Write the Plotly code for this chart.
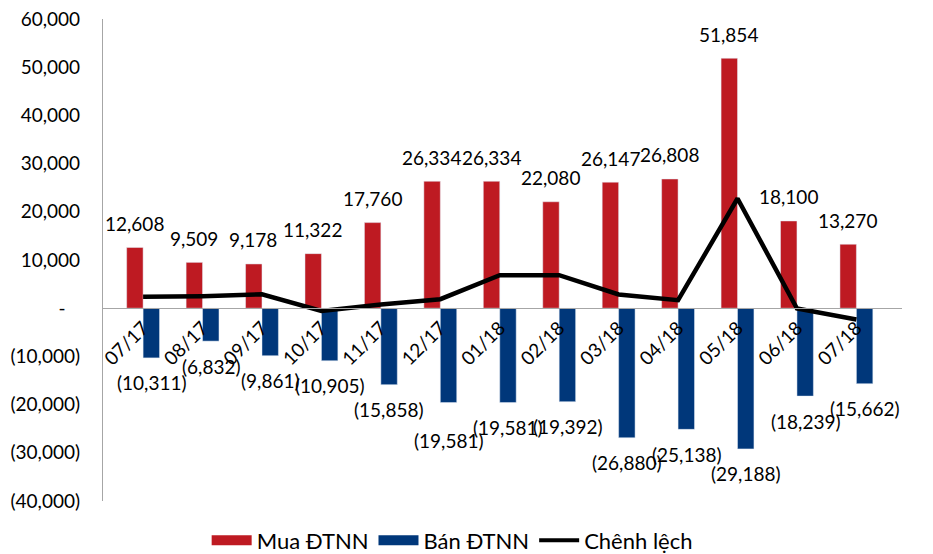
import plotly.graph_objects as go

# Monthly foreign-investor trading (ĐTNN)
months = ["07/17", "08/17", "09/17", "10/17", "11/17", "12/17", "01/18",
          "02/18", "03/18", "04/18", "05/18", "06/18", "07/18"]
mua = [12608, 9509, 9178, 11322, 17760, 26334, 26334, 22080, 26147, 26808, 51854, 18100, 13270]
ban = [-10311, -6832, -9861, -10905, -15858, -19581, -19581, -19392, -26880, -25138, -29188, -18239, -15662]
chenh_lech = [2350, 2500, 2900, -560, 770, 1870, 6850, 6850, 2840, 1660, 22760, -60, -2340]

y_ticks = [-40000, -30000, -20000, -10000, 0, 10000, 20000, 30000, 40000, 50000, 60000]

RED = "#BE1A22"
BLUE = "#00377A"
AXIS_GREY = "#A6A6A6"
FONT = "Lato"


def acct(v):
    """Accounting-style number: parentheses for negatives, dash for zero."""
    if v == 0:
        return "-\u00a0\u00a0\u00a0"
    if v < 0:
        return f"({abs(v):,})"
    return f"{v:,}"


fig = go.Figure()

fig.add_trace(go.Bar(x=months, y=mua, name="Mua ĐTNN", marker_color=RED,
                     showlegend=False, legendgroup="mua"))
fig.add_trace(go.Bar(x=months, y=ban, name="Bán ĐTNN", marker_color=BLUE,
                     showlegend=False, legendgroup="ban"))
fig.add_trace(go.Scatter(x=months, y=chenh_lech, name="Chênh lệch", mode="lines",
                         line=dict(color="black", width=4.5), showlegend=False,
                         legendgroup="cl"))

# Legend entries drawn as wide strokes so the swatches read as bars
fig.add_trace(go.Scatter(x=[None], y=[None], mode="lines", name="Mua ĐTNN",
                         line=dict(color=RED, width=14), legendgroup="mua"))
fig.add_trace(go.Scatter(x=[None], y=[None], mode="lines", name="Bán ĐTNN",
                         line=dict(color=BLUE, width=14), legendgroup="ban"))
fig.add_trace(go.Scatter(x=[None], y=[None], mode="lines", name="Chênh lệch",
                         line=dict(color="black", width=4), legendgroup="cl"))

# Value labels above/below each bar
label_font = dict(family=FONT, size=19, color="black")
annotations = []
for m, v in zip(months, mua):
    annotations.append(dict(x=m, y=v, text=acct(v), showarrow=False,
                            xshift=-8.6, yshift=24, yanchor="middle", font=label_font))
for i, (m, v) in enumerate(zip(months, ban)):
    # the 12/17 label sits a little lower to clear its neighbour
    shift = -38 if m == "12/17" else -25
    annotations.append(dict(x=m, y=v, text=acct(v), showarrow=False,
                            xshift=8.6, yshift=shift, yanchor="middle", font=label_font))

fig.update_layout(
    width=933, height=554,
    margin=dict(l=103, r=31, t=19, b=53, autoexpand=False),
    paper_bgcolor="white", plot_bgcolor="white",
    barmode="group", bargap=0.447, bargroupgap=0,
    font=dict(family=FONT, color="black"),
    annotations=annotations,
    legend=dict(orientation="h", x=0.437, xanchor="center", y=-0.082, yanchor="middle",
                font=dict(family=FONT, size=22, color="black"),
                itemwidth=40, tracegroupgap=0, bgcolor="rgba(0,0,0,0)"),
    xaxis=dict(type="category", anchor="free", position=0.4,
               showline=True, linecolor=AXIS_GREY, linewidth=1.3,
               ticks="", tickangle=-45, showgrid=False, zeroline=False,
               tickfont=dict(family=FONT, size=19, color="black")),
    yaxis=dict(range=[-40000, 60000], tickvals=y_ticks,
               ticktext=[acct(v) for v in y_ticks],
               showline=True, linecolor=AXIS_GREY, linewidth=1.3,
               showgrid=False, zeroline=False, ticks="",
               ticklabelstandoff=18,
               tickfont=dict(family=FONT, size=19, color="black")),
)

fig.write_html("out.html")
